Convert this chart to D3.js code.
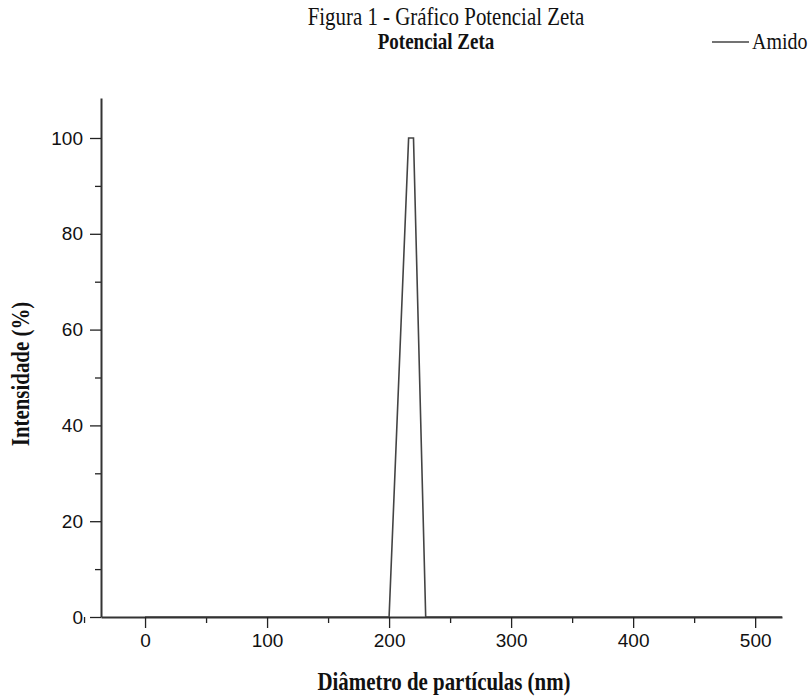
<!DOCTYPE html>
<html>
<head>
<meta charset="utf-8">
<script src="https://cdn.jsdelivr.net/npm/d3@7"></script>
<style>
  body { margin: 0; background: #fff; }
  svg { display: block; }
  .tick text { font-family: "Liberation Sans", Arial, sans-serif; font-size: 19px; fill: #111; }
</style>
</head>
<body>
<svg id="chart" width="811" height="698"></svg>
<script>
// particle size distribution (Amido)
const diameters = [0, 150, 200, 216, 220, 230, 300, 600];
const intensity = [0, 0, 0, 100, 100, 0, 0, 0];

const xMajor = [0, 100, 200, 300, 400, 500];
const xMinor = [-50, 50, 150, 250, 350, 450];
const yMajor = [0, 20, 40, 60, 80, 100];
const yMinor = [10, 30, 50, 70, 90];

const svg = d3.select('#chart');
const plotLeft = 101, plotRight = 782, plotTop = 98, plotBottom = 617;

const x = d3.scaleLinear().domain([-36.1, 522]).range([plotLeft, plotRight]);
const y = d3.scaleLinear().domain([0, 108.35]).range([plotBottom, plotTop]);

svg.append('defs').append('clipPath').attr('id', 'plotClip')
  .append('rect')
  .attr('x', plotLeft).attr('y', plotTop - 5)
  .attr('width', plotRight - plotLeft).attr('height', plotBottom - plotTop + 5);

// minor ticks
svg.append('g')
  .attr('transform', `translate(0,${plotBottom})`)
  .call(d3.axisBottom(x).tickValues(xMinor).tickSize(6).tickFormat(''))
  .call((g) => g.select('.domain').remove());
svg.append('g')
  .attr('transform', `translate(${plotLeft},0)`)
  .call(d3.axisLeft(y).tickValues(yMinor).tickSize(6).tickFormat(''))
  .call((g) => g.select('.domain').remove());

// major ticks + labels
const xAxis = svg.append('g')
  .attr('transform', `translate(0,${plotBottom})`)
  .call(d3.axisBottom(x).tickValues(xMajor).tickSize(11).tickPadding(6).tickSizeOuter(0));
const yAxis = svg.append('g')
  .attr('transform', `translate(${plotLeft},0)`)
  .call(d3.axisLeft(y).tickValues(yMajor).tickSize(11).tickPadding(7).tickSizeOuter(0));

svg.selectAll('.tick line').attr('stroke', '#222').attr('stroke-width', 1.3);
[xAxis, yAxis].forEach((g) => g.select('.domain').attr('stroke', '#333').attr('stroke-width', 2));

// data line
const points = diameters.map((d, i) => [d, intensity[i]]);
svg.append('path')
  .datum(points)
  .attr('clip-path', 'url(#plotClip)')
  .attr('fill', 'none')
  .attr('stroke', '#444')
  .attr('stroke-width', 1.6)
  .attr('d', d3.line().x((d) => x(d[0])).y((d) => y(d[1])));

// serif texts are a bit taller than wide in the scan
const serif = '"Liberation Serif", "Times New Roman", serif';
function label(tx, ty, text, size, bold, anchor = 'middle', rotate = 0) {
  svg.append('text')
    .attr('transform', `translate(${tx},${ty}) rotate(${rotate}) scale(0.95,1.12)`)
    .attr('text-anchor', anchor)
    .attr('font-family', serif)
    .attr('font-size', size)
    .attr('font-weight', bold ? 'bold' : 'normal')
    .attr('fill', '#111')
    .text(text);
}

label(446, 25, 'Figura 1 - Gráfico Potencial Zeta', 22, false);
label(436, 49, 'Potencial Zeta', 20, true);

// legend
svg.append('line')
  .attr('x1', 712).attr('x2', 749).attr('y1', 42).attr('y2', 42)
  .attr('stroke', '#444').attr('stroke-width', 1.3);
label(752, 49, 'Amido', 21, false, 'start');

// axis labels
label(444, 690, 'Diâmetro de partículas (nm)', 22, true);
label(29, 374, 'Intensidade (%)', 22, true, 'middle', -90);
</script>
</body>
</html>
